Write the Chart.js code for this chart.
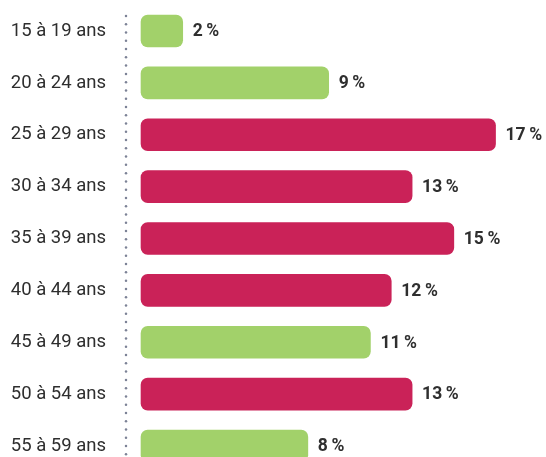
<!DOCTYPE html>
<html>
<head>
<meta charset="utf-8">
<script src="https://cdn.jsdelivr.net/npm/chart.js@4/dist/chart.umd.min.js"></script>
<style>
  html, body { margin: 0; padding: 0; background: #fff; overflow: hidden; }
  #wrap { width: 546px; height: 529px; margin-top: -26px; }
</style>
</head>
<body>
<div id="wrap"><canvas id="ageChart" width="546" height="529"></canvas></div>
<script>
const ageGroups = ['15 à 19 ans', '20 à 24 ans', '25 à 29 ans', '30 à 34 ans', '35 à 39 ans',
    '40 à 44 ans', '45 à 49 ans', '50 à 54 ans', '55 à 59 ans'];
const shares = [2, 9, 17, 13, 15, 12, 11, 13, 8];
const highlighted = [false, false, true, true, true, true, false, true, false];

const green = '#a2d16a';
const crimson = '#ca2258';

// value labels after each bar
const valueLabels = {
    id: 'valueLabels',
    afterDatasetsDraw(chart) {
        const ctx = chart.ctx;
        const meta = chart.getDatasetMeta(0);
        ctx.save();
        ctx.font = 'bold 17.5px Roboto';
        ctx.fillStyle = '#2f2f2f';
        ctx.textBaseline = 'middle';
        ctx.textAlign = 'left';
        meta.data.forEach((bar, i) => {
            ctx.fillText(shares[i] + '\u2009%', bar.x + 10, bar.y + 1);
        });
        ctx.restore();
    }
};

// dotted separator between labels and bars
const dottedLine = {
    id: 'dottedLine',
    beforeDatasetsDraw(chart) {
        const ctx = chart.ctx;
        const x = chart.chartArea.left;
        ctx.save();
        ctx.fillStyle = '#7c8296';
        for (let y = 42; y < chart.height; y += 8.27) {
            ctx.beginPath();
            ctx.arc(x, y, 1.25, 0, Math.PI * 2);
            ctx.fill();
        }
        ctx.restore();
    }
};

new Chart(document.getElementById('ageChart'), {
    type: 'bar',
    data: {
        labels: ageGroups,
        datasets: [{
            data: shares,
            backgroundColor: highlighted.map(h => h ? crimson : green),
            borderRadius: 7,
            borderSkipped: false,
            barThickness: 32,
            categoryPercentage: 1
        }]
    },
    options: {
        indexAxis: 'y',
        responsive: false,
        animation: false,
        plugins: {
            legend: { display: false },
            tooltip: { enabled: false }
        },
        scales: {
            x: {
                display: false,
                min: -0.72,
                max: 19.42
            },
            y: {
                grid: { display: false, drawTicks: false },
                border: { display: false },
                afterFit: (scale) => { scale.width = 126; },
                ticks: {
                    padding: 20,
                    color: '#2e2e2e',
                    font: { family: 'Roboto', size: 18.5 }
                }
            }
        }
    },
    plugins: [valueLabels, dottedLine]
});
</script>
</body>
</html>
